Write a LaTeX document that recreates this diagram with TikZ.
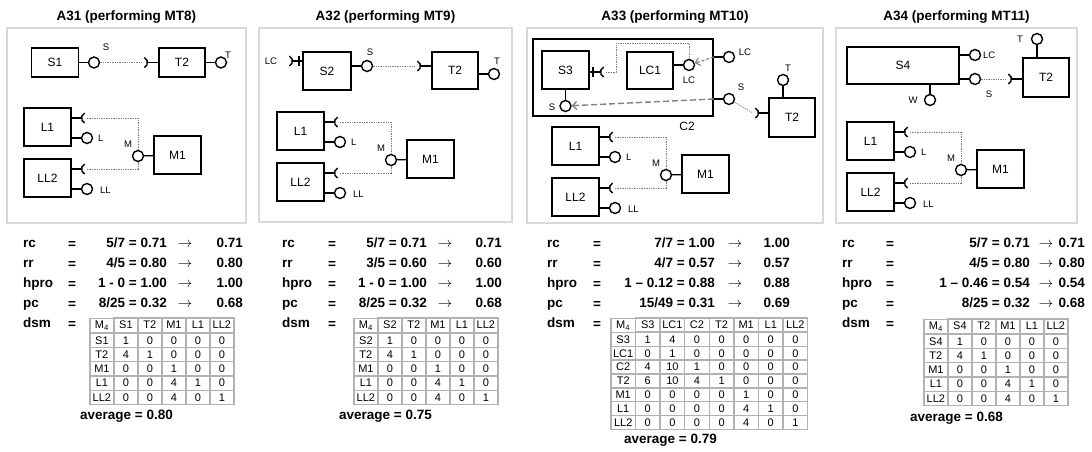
\documentclass[tikz,border=0pt]{standalone}
\usepackage{fontspec}
\setmainfont{Liberation Sans}
\usetikzlibrary{arrows.meta, matrix}

% socket cups: opening to the left / to the right of the point
\newcommand{\sockl}[1]{\draw[sockline] ([shift={(65:5.5pt)}]#1) arc[start angle=65, end angle=-65, radius=5.5pt];}
\newcommand{\sockr}[1]{\draw[sockline] ([shift={(115:5.5pt)}]#1) arc[start angle=115, end angle=245, radius=5.5pt];}

% L1, LL2 and M1 with their ports; #1 prefix, (#2,#3) upper left of L1
\newcommand{\lmgroup}[3]{%
  \begin{scope}[shift={(#2,#3)}]
    \node[comp] (#1l1)  at (23.5,19) {L1};
    \node[comp] (#1ll2) at (23.5,70) {LL2};
    \node[comp] (#1m1)  at (153.5,47) {M1};
    \coordinate (#1l1k)  at (63,10);
    \coordinate (#1ll2k) at (63,61);
    \node[ball] (#1lb)  at (63,30) {};
    \node[ball] (#1llb) at (63,81) {};
    \node[ball] (#1mb)  at (114,48) {};
    \node[port, anchor=west] (#1lt)  at (73,30) {L};
    \node[port, anchor=west] (#1llt) at (75,82) {LL};
    \node[port] (#1mt) at (104,36) {M};
  \end{scope}
  \draw[stem] (#1l1.east |- #1l1k) -- ([xshift=-5.5pt]#1l1k);
  \draw[stem] (#1ll2.east |- #1ll2k) -- ([xshift=-5.5pt]#1ll2k);
  \sockr{#1l1k}
  \sockr{#1ll2k}
  \draw[stem] (#1l1.east |- #1lb) -- (#1lb);
  \draw[stem] (#1ll2.east |- #1llb) -- (#1llb);
  \draw[stem] (#1mb) -- (#1m1);
  \draw[link] (#1l1k) -| (#1mb);
  \draw[link] (#1ll2k) -| (#1mb);}

% names and '=' of the metric rows; #1 prefix, #2 x of names, #3 x of '='
\newcommand{\metricrows}[3]{%
  \foreach \lab [count=\i] in {rc,rr,hpro,pc,dsm}
    \node[val, anchor=mid west] (#1n\i) at (#2,225+20*\i) {\lab};
  \foreach \i in {1,...,5}
    \node[val] (#1q\i) at (#3,225+20*\i) {=};}

% one metric row; #1 name, #2 y, #3 expression, #4 result
\newcommand{\metric}[4]{%
  \node[val, anchor=mid east] (#1e) at (\mxe,#2) {#3};
  \node[val] (#1a) at (\mxa,#2) {$\rightarrow$};
  \node[val, anchor=mid east] (#1r) at (\mxr,#2) {#4};}

\begin{document}
\begin{tikzpicture}[x=1pt, y=-1pt,
    every node/.style={font=\fontsize{12}{14}\selectfont},
    panel/.style={rectangle, draw=black!15, line width=1.8pt, fill=white},
    title/.style={font=\fontsize{13.5}{16}\selectfont\bfseries},
    comp/.style={rectangle, draw, line width=1.2pt, fill=white, minimum width=47pt, minimum height=38pt, inner sep=0pt},
    ball/.style={circle, draw, line width=1.4pt, fill=white, minimum size=11pt, inner sep=0pt},
    stem/.style={line width=1.3pt},
    sockline/.style={line width=1.4pt},
    port/.style={font=\fontsize{9.5}{11}\selectfont, inner sep=1pt},
    link/.style={draw=black!50, line width=0.7pt, dash pattern=on 1.4pt off 1pt},
    deleg/.style={draw=black!50, line width=1.4pt, dash pattern=on 6pt off 3pt, -{Straight Barb[length=4pt, width=8pt]}},
    val/.style={font=\fontsize{13.5}{16}\selectfont\bfseries, inner sep=0pt},
    dsm/.style={matrix of nodes, anchor=north west, inner sep=0pt, column sep=-1.4pt, row sep=-1.4pt, nodes={cell}},
    cell/.style={draw=black!30, line width=1.4pt, minimum width=24pt, minimum height=14.3pt, inner sep=0pt, font=\fontsize{11}{12}\selectfont}
]
    \path[use as bounding box, fill=white] (0,0) rectangle (1092,452);

    % A31
    \node[panel, minimum width=239pt, minimum height=195pt] (f1) at (126.5,125.5) {};
    \node[title] (h1) at (126.5,17) {A31 (performing MT8)};
    \node[comp, minimum height=29pt] (p1s1) at (55,62.5) {S1};
    \node[comp, minimum width=46pt, minimum height=29pt] (p1t2) at (182,62.5) {T2};
    \node[ball] (p1sb) at (94,62.5) {};
    \node[ball] (p1tb) at (221,62.5) {};
    \coordinate (p1k) at (142,62.5);
    \node[port] (p1st) at (106,47) {S};
    \node[port] (p1tt) at (228,55) {T};
    \draw[stem] (p1s1) -- (p1sb);
    \draw[stem] (p1t2) -- (p1tb);
    \draw[stem] ([xshift=5.5pt]p1k) -- (p1t2);
    \sockl{p1k}
    \draw[link] (p1sb) -- (p1k);
    \lmgroup{p1}{24}{108}

    % A32
    \node[panel, minimum width=253pt, minimum height=194pt] (f2) at (385.5,125) {};
    \node[title] (h2) at (385.5,17) {A32 (performing MT9)};
    \node[comp, minimum width=48pt] (p2s2) at (327,71) {S2};
    \node[comp, minimum width=46pt, minimum height=37pt] (p2t2) at (455,70.5) {T2};
    \node[ball] (p2sb) at (367,66) {};
    \node[ball] (p2tb) at (494,74) {};
    \coordinate (p2lck) at (287,61);
    \coordinate (p2tick) at (299,61);
    \coordinate (p2k) at (415,66);
    \node[port] (p2lct) at (271,61) {LC};
    \node[port] (p2st) at (370,52) {S};
    \node[port] (p2tt) at (497,61) {T};
    \draw[stem] (p2s2.east |- p2sb) -- (p2sb);
    \draw[stem] (p2t2.east |- p2tb) -- (p2tb);
    \draw[stem] ([xshift=5.5pt]p2lck) -- (p2s2.west |- p2lck);
    \draw[stem] ([yshift=5pt]p2tick) -- ([yshift=-5pt]p2tick);
    \draw[stem] ([xshift=5.5pt]p2k) -- (p2t2.west |- p2k);
    \sockl{p2lck}
    \sockl{p2k}
    \draw[link] (p2sb) -- (p2k);
    \lmgroup{p2}{277}{112}

    % A33
    \node[panel, minimum width=296pt, minimum height=195pt] (f3) at (675,125.5) {};
    \node[title] (h3) at (675,17) {A33 (performing MT10)};
    \node[comp, line width=1.8pt, minimum width=180pt, minimum height=77pt] (p3c2) at (623,77.5) {};
    \node (p3c2t) at (687,126) {C2};
    \node[comp] (p3s3) at (565.5,70) {S3};
    \node[comp, minimum width=46pt, minimum height=37pt] (p3lc1) at (650,70.5) {LC1};
    \node[comp, minimum width=46pt, minimum height=39pt] (p3t2) at (792,117.5) {T2};
    \node[ball] (p3lcb) at (689,65) {};
    \node[ball] (p3sb) at (565.5,106) {};
    \node[ball] (p3xlcb) at (729,57) {};
    \node[ball] (p3xsb) at (729,99) {};
    \node[ball] (p3tb) at (783,80) {};
    \coordinate (p3s3k) at (606,72);
    \coordinate (p3tick) at (593,72);
    \coordinate (p3k) at (753,113);
    \node[port] (p3lct) at (689,80) {LC};
    \node[port] (p3st) at (552,107) {S};
    \node[port] (p3xlct) at (745,52) {LC};
    \node[port] (p3xst) at (741,87) {S};
    \node[port] (p3tt) at (788,68) {T};
    \draw[stem] (p3s3.east |- p3s3k) -- ([xshift=-5.5pt]p3s3k);
    \draw[stem] ([yshift=5pt]p3tick) -- ([yshift=-5pt]p3tick);
    \sockr{p3s3k}
    \draw[stem] (p3lc1.east |- p3lcb) -- (p3lcb);
    \draw[stem] (p3s3) -- (p3sb);
    \draw[stem] (p3c2.east |- p3xlcb) -- (p3xlcb);
    \draw[stem] (p3c2.east |- p3xsb) -- (p3xsb);
    \draw[stem] (p3t2.north -| p3tb) -- (p3tb);
    \draw[stem] ([xshift=5.5pt]p3k) -- (p3t2.west |- p3k);
    \sockl{p3k}
    \draw[link] (p3s3k) -- ++(10,0) -- ++(0,-29) -| (p3lcb);
    \draw[link] (p3xsb) -- (p3k);
    \draw[deleg, line width=1.1pt, dash pattern=on 3pt off 2pt] (p3c2.east |- p3xlcb) -- (p3lcb);
    \draw[deleg] (p3c2.east |- p3xsb) -- (p3sb);
    \lmgroup{p3}{552}{127}

    % A34
    \node[panel, minimum width=241pt, minimum height=195pt] (f4) at (956.5,125.5) {};
    \node[title] (h4) at (956.5,17) {A34 (performing MT11)};
    \node[comp, minimum width=112pt, minimum height=37pt] (p4s4) at (903,65.5) {S4};
    \node[comp, minimum width=46pt, minimum height=39pt] (p4t2) at (1046,77.5) {T2};
    \node[ball] (p4lcb) at (975,55) {};
    \node[ball] (p4sb) at (975,79) {};
    \node[ball] (p4wb) at (930,100) {};
    \node[ball] (p4tb) at (1037,39) {};
    \coordinate (p4k) at (1006,79);
    \node[port, anchor=west] (p4lct) at (982,55) {LC};
    \node[port] (p4st) at (989,94) {S};
    \node[port] (p4wt) at (913,100) {W};
    \node[port] (p4tt) at (1020,39) {T};
    \draw[stem] (p4s4.east |- p4lcb) -- (p4lcb);
    \draw[stem] (p4s4.east |- p4sb) -- (p4sb);
    \draw[stem] (p4s4.south -| p4wb) -- (p4wb);
    \draw[stem] (p4t2.north -| p4tb) -- (p4tb);
    \draw[stem] ([xshift=5.5pt]p4k) -- (p4t2.west |- p4k);
    \sockl{p4k}
    \draw[link] (p4sb) -- (p4k);
    \lmgroup{p4}{847}{122}

    % metrics A31
    \def\mxe{167}\def\mxa{185}\def\mxr{243}
    \metricrows{m1}{23}{72}
    \metric{m1rc}{245}{5/7 = 0.71}{0.71}
    \metric{m1rr}{265}{4/5 = 0.80}{0.80}
    \metric{m1hp}{285}{1 - 0 = 1.00}{1.00}
    \metric{m1pc}{305}{8/25 = 0.32}{0.68}
    \matrix[dsm] (m1t) at (89,317) {
        M\textsubscript{4} & S1 & T2 & M1 & L1 & LL2 \\
        S1  & 1 & 0 & 0 & 0 & 0 \\
        T2  & 4 & 1 & 0 & 0 & 0 \\
        M1  & 0 & 0 & 1 & 0 & 0 \\
        L1  & 0 & 0 & 4 & 1 & 0 \\
        LL2 & 0 & 0 & 4 & 0 & 1 \\
    };
    \node[val, anchor=mid west] (m1avg) at (80,417) {average = 0.80};

    % metrics A32
    \def\mxe{427}\def\mxa{445}\def\mxr{502}
    \metricrows{m2}{282}{332}
    \metric{m2rc}{245}{5/7 = 0.71}{0.71}
    \metric{m2rr}{265}{3/5 = 0.60}{0.60}
    \metric{m2hp}{285}{1 - 0 = 1.00}{1.00}
    \metric{m2pc}{305}{8/25 = 0.32}{0.68}
    \matrix[dsm] (m2t) at (353,317) {
        M\textsubscript{4} & S2 & T2 & M1 & L1 & LL2 \\
        S2  & 1 & 0 & 0 & 0 & 0 \\
        T2  & 4 & 1 & 0 & 0 & 0 \\
        M1  & 0 & 0 & 1 & 0 & 0 \\
        L1  & 0 & 0 & 4 & 1 & 0 \\
        LL2 & 0 & 0 & 4 & 0 & 1 \\
    };
    \node[val, anchor=mid west] (m2avg) at (339,417) {average = 0.75};

    % metrics A33
    \def\mxe{715}\def\mxa{735}\def\mxr{790}
    \metricrows{m3}{547}{597}
    \metric{m3rc}{245}{7/7 = 1.00}{1.00}
    \metric{m3rr}{265}{4/7 = 0.57}{0.57}
    \metric{m3hp}{285}{1 -- 0.12 = 0.88}{0.88}
    \metric{m3pc}{305}{15/49 = 0.31}{0.69}
    \matrix[dsm, nodes={minimum width=24.6pt, minimum height=13.8pt}] (m3t) at (610,317) {
        M\textsubscript{4} & S3 & LC1 & C2 & T2 & M1 & L1 & LL2 \\
        S3  & 1 & 4  & 0 & 0 & 0 & 0 & 0 \\
        LC1 & 0 & 1  & 0 & 0 & 0 & 0 & 0 \\
        C2  & 4 & 10 & 1 & 0 & 0 & 0 & 0 \\
        T2  & 6 & 10 & 4 & 1 & 0 & 0 & 0 \\
        M1  & 0 & 0  & 0 & 0 & 1 & 0 & 0 \\
        L1  & 0 & 0  & 0 & 0 & 4 & 1 & 0 \\
        LL2 & 0 & 0  & 0 & 0 & 4 & 0 & 1 \\
    };
    \node[val, anchor=mid west] (m3avg) at (624,441) {average = 0.79};

    % metrics A34
    \def\mxe{1030}\def\mxa{1046}\def\mxr{1085}
    \metricrows{m4}{842}{890}
    \metric{m4rc}{245}{5/7 = 0.71}{0.71}
    \metric{m4rr}{265}{4/5 = 0.80}{0.80}
    \metric{m4hp}{285}{1 -- 0.46 = 0.54}{0.54}
    \metric{m4pc}{305}{8/25 = 0.32}{0.68}
    \matrix[dsm] (m4t) at (923,318) {
        M\textsubscript{4} & S4 & T2 & M1 & L1 & LL2 \\
        S4  & 1 & 0 & 0 & 0 & 0 \\
        T2  & 4 & 1 & 0 & 0 & 0 \\
        M1  & 0 & 0 & 1 & 0 & 0 \\
        L1  & 0 & 0 & 4 & 1 & 0 \\
        LL2 & 0 & 0 & 4 & 0 & 1 \\
    };
    \node[val, anchor=mid west] (m4avg) at (910,419) {average = 0.68};
\end{tikzpicture}
\end{document}
